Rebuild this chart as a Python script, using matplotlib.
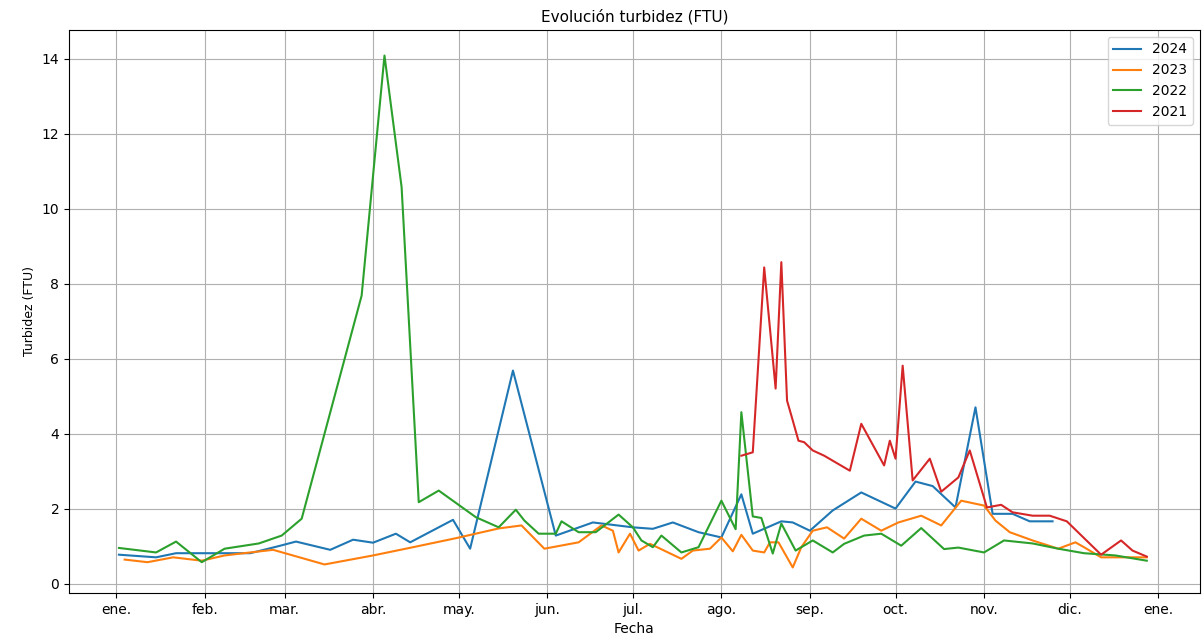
import numpy as np
import matplotlib
matplotlib.use('Agg')
from matplotlib import pyplot as plt

# day of year (0 = 1 de enero) and turbidity values
dias_2024 = [1, 14, 21, 30, 47, 57, 63, 75, 83, 90, 98, 103, 118, 124, 139, 154, 167, 181, 188,
             195, 204, 212, 219, 223, 233, 237, 243, 251, 261, 273, 280, 286, 294, 301, 307, 314,
             320, 328]
turb_2024 = [0.77, 0.70, 0.81, 0.81, 0.81, 1.00, 1.12, 0.90, 1.17, 1.09, 1.33, 1.10, 1.70, 0.93,
             5.68, 1.28, 1.63, 1.50, 1.46, 1.63, 1.37, 1.23, 2.38, 1.33, 1.66, 1.63, 1.41, 1.95,
             2.43, 2.00, 2.72, 2.60, 2.03, 4.70, 1.86, 1.86, 1.66, 1.66]

dias_2023 = [3, 11, 20, 30, 38, 47, 55, 73, 90, 104, 119, 134, 142, 150, 162, 170, 174, 176, 180,
             183, 187, 198, 202, 208, 212, 216, 219, 223, 227, 229, 232, 237, 240, 244, 249, 255,
             261, 268, 274, 282, 289, 296, 304, 308, 313, 321, 330, 336, 339, 345, 361]
turb_2023 = [0.64, 0.57, 0.70, 0.61, 0.75, 0.83, 0.90, 0.51, 0.75, 0.97, 1.21, 1.47, 1.55, 0.93,
             1.10, 1.55, 1.41, 0.83, 1.33, 0.88, 1.06, 0.66, 0.88, 0.93, 1.23, 0.86, 1.30, 0.88,
             0.83, 1.10, 1.10, 0.43, 0.97, 1.41, 1.50, 1.20, 1.73, 1.41, 1.63, 1.81, 1.55, 2.21,
             2.08, 1.68, 1.37, 1.15, 0.93, 1.10, 0.97, 0.70, 0.70]

dias_2022 = [1, 14, 21, 30, 38, 50, 58, 65, 86, 94, 100, 106, 113, 126, 134, 140, 143, 148, 154,
             156, 162, 168, 176, 181, 184, 188, 191, 198, 204, 212, 217, 219, 223, 226, 230, 233,
             238, 244, 251, 255, 262, 268, 275, 282, 290, 295, 304, 311, 321, 330, 339, 350, 361]
turb_2022 = [0.95, 0.83, 1.12, 0.57, 0.93, 1.07, 1.28, 1.73, 7.68, 14.08, 10.57, 2.17, 2.48, 1.77,
             1.50, 1.97, 1.68, 1.33, 1.33, 1.66, 1.37, 1.37, 1.84, 1.50, 1.15, 0.97, 1.28, 0.83,
             0.97, 2.21, 1.45, 4.57, 1.79, 1.75, 0.80, 1.60, 0.88, 1.15, 0.83, 1.06, 1.28, 1.33,
             1.01, 1.48, 0.92, 0.96, 0.83, 1.15, 1.07, 0.93, 0.81, 0.75, 0.61]

dias_2021 = [219, 223, 227, 231, 233, 235, 237, 239, 241, 244, 248, 257, 261, 269, 271, 273, 275.5,
             279, 285, 289, 295, 299, 305, 310, 314, 321, 327, 333, 345, 352, 356, 361]
turb_2021 = [3.41, 3.50, 8.43, 5.20, 8.57, 4.88, 4.35, 3.81, 3.77, 3.55, 3.41, 3.01, 4.26, 3.15,
             3.81, 3.33, 5.81, 2.75, 3.33, 2.45, 2.83, 3.55, 2.03, 2.10, 1.90, 1.81, 1.81, 1.66,
             0.77, 1.15, 0.88, 0.72]

meses_ini = [0, 31, 59, 90, 120, 151, 181, 212, 243, 273, 304, 334, 365]
meses_lbl = ['ene.', 'feb.', 'mar.', 'abr.', 'may.', 'jun.', 'jul.', 'ago.', 'sep.', 'oct.',
             'nov.', 'dic.', 'ene.']

fig, ax = plt.subplots(figsize=(12.02, 6.37), dpi=100)

ax.plot(dias_2024, turb_2024, color='tab:blue', lw=1.5, label='2024')
ax.plot(dias_2023, turb_2023, color='tab:orange', lw=1.5, label='2023')
ax.plot(dias_2022, turb_2022, color='tab:green', lw=1.5, label='2022')
ax.plot(dias_2021, turb_2021, color='tab:red', lw=1.5, label='2021')

ax.set_xticks(meses_ini)
ax.set_xticklabels(meses_lbl)
ax.set_yticks(np.arange(0, 15, 2))
ax.set_xlim(-16.5, 379.5)
ax.tick_params(labelsize=10)

ax.set_title('Evolución turbidez (FTU)', fontsize=11)
ax.set_xlabel('Fecha', fontsize=10)
ax.set_ylabel('Turbidez (FTU)', fontsize=9)
ax.grid(True)
ax.legend(loc='upper right', fontsize=10)

plt.subplots_adjust(left=0.0574, right=0.998, top=0.953, bottom=0.069)
plt.savefig('out.png', dpi=100)
